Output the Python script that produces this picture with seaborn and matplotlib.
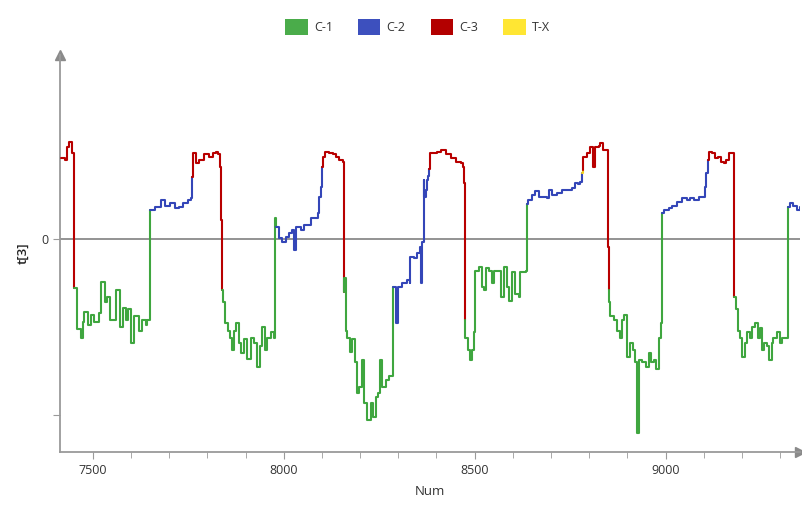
import numpy as np
import pandas as pd
import matplotlib
matplotlib.use("Agg")
import matplotlib.pyplot as plt
from matplotlib.ticker import MultipleLocator, FixedLocator
from matplotlib.patches import Patch
import seaborn as sns

# values
num = [7417, 7428, 7433, 7437, 7442, 7445, 7450,
       7452, 7458, 7469, 7474, 7478, 7487, 7496, 7504, 7517, 7522, 7531, 7537, 7546,
       7561, 7570, 7578, 7587, 7591, 7600, 7609, 7622, 7630, 7639, 7643, 7648,
       7649, 7664, 7679, 7690, 7701, 7714, 7727, 7737, 7748, 7758,
       7761, 7762, 7769, 7779, 7792, 7805, 7814, 7823, 7829, 7833, 7836,
       7838, 7842, 7847, 7853, 7859, 7864, 7870, 7876, 7882, 7888, 7896, 7905, 7914,
       7922, 7931, 7937, 7944, 7951, 7957, 7966, 7975, 7976,
       7980, 7988, 7996, 8005, 8014, 8022, 8027, 8033, 8044, 8053, 8063, 8071, 8084,
       8089, 8093, 8097,
       8099, 8102, 8108, 8119, 8128, 8136, 8145, 8154, 8156,
       8157, 8158, 8162, 8167, 8174, 8180, 8186, 8191, 8197, 8206, 8210, 8219, 8228,
       8235, 8241, 8247, 8252, 8258, 8267, 8275, 8284,
       8285, 8288, 8295, 8299, 8310, 8319, 8323, 8330, 8332, 8341, 8349, 8356, 8360,
       8363, 8367, 8368, 8372, 8376, 8379,
       8381, 8383, 8394, 8402, 8411, 8424, 8437, 8450, 8463, 8469, 8472,
       8474, 8476, 8483, 8489, 8494, 8498, 8501, 8511, 8518, 8524, 8530, 8537, 8546,
       8550, 8563, 8570, 8576, 8585, 8591, 8598, 8607, 8616, 8620, 8629, 8635, 8636,
       8637, 8641, 8650, 8659, 8668, 8676, 8689, 8694, 8702, 8715, 8728, 8741, 8755,
       8763, 8772, 8776, 8781,
       8782,
       8784, 8785, 8793, 8802, 8809, 8811, 8815, 8825, 8829, 8836, 8846, 8849,
       8851, 8852, 8855, 8864, 8873, 8880, 8886, 8890, 8898, 8906, 8915, 8921, 8926,
       8930, 8939, 8948, 8956, 8962, 8969, 8976, 8982, 8987, 8991,
       8992, 8996, 9009, 9018, 9031, 9044, 9057, 9065, 9074, 9087, 9098, 9103, 9107,
       9112, 9113, 9122, 9129, 9138, 9144, 9152, 9159, 9165, 9174, 9178,
       9180, 9184, 9189, 9195, 9201, 9207, 9213, 9221, 9227, 9234, 9241, 9247, 9252,
       9259, 9265, 9271, 9278, 9282, 9291, 9300, 9306, 9317, 9321,
       9322, 9326, 9335, 9344, 9352]

t3 = [0.46, 0.45, 0.52, 0.55, 0.55, 0.49, 0.375,
      -0.28, -0.51, -0.56, -0.47, -0.415, -0.49, -0.43, -0.47, -0.42, -0.245, -0.36, -0.33, -0.46,
      -0.29, -0.50, -0.39, -0.46, -0.40, -0.59, -0.44, -0.52, -0.46, -0.49, -0.46, -0.46,
      0.165, 0.18, 0.22, 0.19, 0.205, 0.175, 0.18, 0.205, 0.22, 0.23,
      0.35, 0.49, 0.43, 0.45, 0.48, 0.465, 0.49, 0.495, 0.48, 0.41, 0.11,
      -0.29, -0.36, -0.48, -0.52, -0.56, -0.63, -0.52, -0.48, -0.59, -0.65, -0.57, -0.68, -0.56,
      -0.59, -0.73, -0.61, -0.50, -0.63, -0.56, -0.53, -0.56, 0.12,
      0.07, 0.005, -0.015, 0.01, 0.035, 0.05, -0.06, 0.07, 0.05, 0.08, 0.08, 0.12, 0.12,
      0.15, 0.24, 0.295,
      0.41, 0.465, 0.495, 0.49, 0.48, 0.465, 0.45, 0.44, 0.44,
      -0.30, -0.22, -0.52, -0.56, -0.64, -0.57, -0.70, -0.875, -0.84, -0.69, -0.93, -1.03, -0.93,
      -1.01, -0.90, -0.875, -0.69, -0.84, -0.80, -0.78, -0.78,
      -0.27, -0.27, -0.48, -0.27, -0.25, -0.25, -0.235, -0.25, -0.10, -0.11, -0.08, -0.045, -0.25,
      -0.02, 0.335, 0.24, 0.28, 0.335, 0.36,
      0.40, 0.49, 0.49, 0.495, 0.505, 0.48, 0.46, 0.44, 0.43, 0.41, 0.32,
      -0.46, -0.56, -0.63, -0.69, -0.63, -0.53, -0.18, -0.16, -0.27, -0.29, -0.165, -0.18, -0.25,
      -0.18, -0.18, -0.33, -0.16, -0.27, -0.35, -0.19, -0.31, -0.33, -0.19, -0.19, -0.18, -0.18,
      0.20, 0.22, 0.25, 0.27, 0.24, 0.24, 0.23, 0.28, 0.25, 0.26, 0.28, 0.28, 0.29,
      0.32, 0.31, 0.325, 0.35,
      0.375,
      0.39, 0.465, 0.49, 0.52, 0.52, 0.41, 0.52, 0.53, 0.545, 0.505, 0.505, -0.045,
      -0.29, -0.36, -0.44, -0.46, -0.52, -0.56, -0.46, -0.43, -0.67, -0.59, -0.63, -0.70, -1.10,
      -0.69, -0.70, -0.73, -0.65, -0.70, -0.69, -0.74, -0.56, -0.48, -0.48,
      0.15, 0.165, 0.175, 0.19, 0.21, 0.23, 0.22, 0.23, 0.22, 0.24, 0.24, 0.295, 0.375,
      0.45, 0.495, 0.49, 0.46, 0.465, 0.44, 0.43, 0.45, 0.49, 0.49, 0.465,
      -0.33, -0.40, -0.52, -0.56, -0.67, -0.59, -0.53, -0.56, -0.50, -0.48, -0.56, -0.505, -0.63,
      -0.59, -0.61, -0.69, -0.59, -0.56, -0.53, -0.59, -0.56, -0.56, -0.56,
      0.18, 0.205, 0.19, 0.165, 0.18]

# class of each point (run lengths in order)
cls_runs = [("C-3", 7), ("C-1", 25), ("C-2", 10), ("C-3", 11), ("C-1", 22),
            ("C-2", 16), ("C-3", 9), ("C-1", 21), ("C-2", 19), ("C-3", 11),
            ("C-1", 26), ("C-2", 17), ("T-X", 1), ("C-3", 12), ("C-1", 23),
            ("C-2", 13), ("C-3", 11), ("C-1", 23), ("C-2", 5)]
cls = [c for c, n in cls_runs for _ in range(n)]

classes = ["C-1", "C-2", "C-3", "T-X"]
line_colors = {"C-1": "#3fa63f", "C-2": "#3446b8", "C-3": "#b80000", "T-X": "#f0d020"}
patch_colors = {"C-1": "#4aac4a", "C-2": "#3d50be", "C-3": "#b30000", "T-X": "#ffe633"}

df = pd.DataFrame({"Num": num, "t3": t3, "cls": cls})

sns.set_style("white")
plt.rcParams["font.family"] = ["Open Sans", "DejaVu Sans"]

fig = plt.figure(figsize=(8.03, 5.07), dpi=100)
ax = fig.add_axes([0.0747, 0.1085, 0.9215, 0.783])

ax.axhline(0, color="#8a8a8a", lw=1.3, zorder=1)

# draw each contiguous class run, joined to the first point of the next run
run_id = (df["cls"] != df["cls"].shift()).cumsum()
starts = df.groupby(run_id).head(1).index.tolist()
for i, s in enumerate(starts):
    e = starts[i + 1] + 1 if i + 1 < len(starts) else len(df)
    part = df.iloc[s:e]
    sns.lineplot(data=part, x="Num", y="t3", sort=False, estimator=None,
                 color=line_colors[part["cls"].iloc[0]], lw=1.5, ax=ax, zorder=3,
                 drawstyle="steps-post")

ax.set_xlim(7414, 9352)
ax.set_ylim(-1.21, 1.045)

ax.xaxis.set_major_locator(MultipleLocator(500))
ax.xaxis.set_minor_locator(MultipleLocator(100))
ax.yaxis.set_major_locator(FixedLocator([-1, 0]))
ax.set_yticklabels(["", "0"])

for side in ["top", "right"]:
    ax.spines[side].set_visible(False)
for side in ["left", "bottom"]:
    ax.spines[side].set_color("#9a9a9a")
    ax.spines[side].set_linewidth(1.3)

ax.tick_params(axis="both", which="major", length=5, color="#9a9a9a",
               labelsize=9, labelcolor="#333333", direction="out", bottom=True, left=True)
ax.tick_params(axis="x", which="minor", length=4, color="#9a9a9a", bottom=True)

# axis arrows
ax.plot(1, 0, ">", transform=ax.transAxes, clip_on=False, color="#8a8a8a", ms=7)
ax.plot(0, 1, "^", transform=ax.transAxes, clip_on=False, color="#8a8a8a", ms=7)

ax.set_xlabel("Num", fontsize=9.5, color="#333333", labelpad=6)
ax.set_ylabel("t[3]", fontsize=9.5, color="#222222", labelpad=8, fontweight="semibold")

handles = [Patch(facecolor=patch_colors[c], edgecolor="none", label=c) for c in classes]
fig.legend(handles=handles, loc="upper center", bbox_to_anchor=(0.52, 0.985), ncol=4,
           frameon=False, fontsize=9, handlelength=1.8, handleheight=1.6,
           handletextpad=0.5, columnspacing=2.0, labelcolor="#333333")

fig.savefig("out.png", dpi=100)
